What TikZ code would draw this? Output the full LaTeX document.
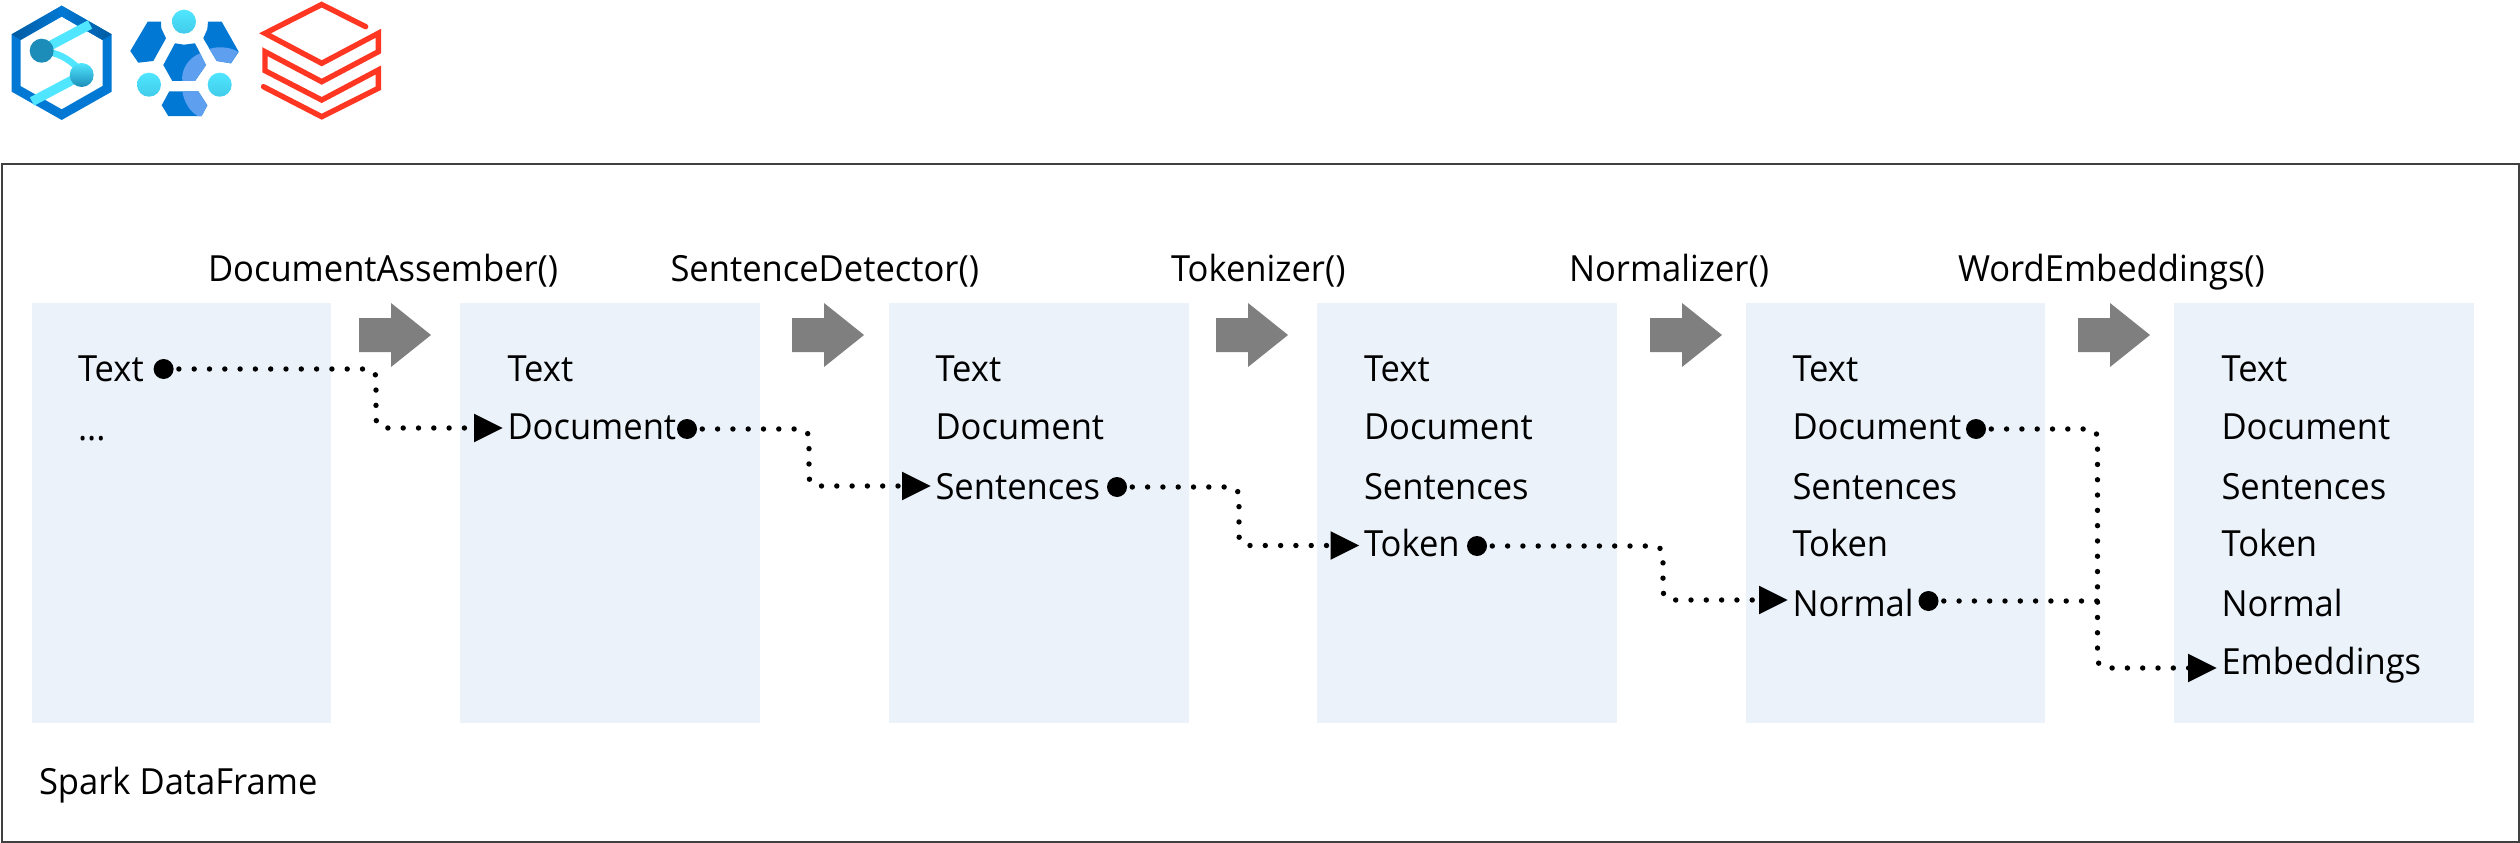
\documentclass[tikz,border=0pt]{standalone}
\usepackage{fontspec}
\setmainfont[FakeStretch=0.96]{Open Sans}
\usetikzlibrary{arrows.meta,calc}
\definecolor{panel}{HTML}{EBF2FA}
\definecolor{arrowgray}{HTML}{7F7F7F}
\definecolor{frameline}{HTML}{404040}
\definecolor{azblue}{HTML}{0078D4}
\definecolor{azdark}{HTML}{005BA1}
\definecolor{azcyan}{HTML}{50E6FF}
\definecolor{azteal}{HTML}{1B8DB8}
\definecolor{azlight}{HTML}{5EA0EF}
\definecolor{dbred}{HTML}{FF3621}
\tikzset{
  panelbox/.style={fill=panel,draw=none,minimum width=299.5pt,minimum height=420pt,inner sep=0pt,outer sep=0pt,anchor=north west},
  rowtext/.style={font=\fontsize{36}{36}\selectfont,anchor=west,inner sep=0pt,outer sep=0pt,text height=26pt,text depth=0pt},
  fn/.style={rowtext},
  srcdot/.style={circle,fill=black,minimum size=20pt,inner sep=0pt,outer sep=0pt},
  flow/.style={line width=5.4pt,line cap=round,dash pattern=on 0pt off 15.3pt,rounded corners=9pt},
  flowtip/.style={-{Triangle[length=29pt,width=27pt]},shorten >=4.5pt},
  stepshape/.style={fill=arrowgray,draw=none},
}
\newcommand{\blockarrow}[1]{\fill[stepshape] (#1,318) -- ++(32,0) -- ++(0,-15) -- ++(40,32) -- ++(-40,32) -- ++(0,-15) -- ++(-32,0) -- cycle;}
\begin{document}
\begin{tikzpicture}[x=1pt,y=-1pt]
\useasboundingbox (0,0) rectangle (2520,843);
\fill[white] (0,0) rectangle (2520,843);
% frame
\node[draw=frameline,line width=1.8pt,minimum width=2517pt,minimum height=677.8pt,inner sep=0pt,outer sep=0pt,anchor=north west] (frame) at (1.6,164.3) {};
% logo 1
\fill[azblue] (61.7,5.7) -- (111.7,34.3) -- (111.7,91.7) -- (61.7,120) -- (11.7,91.7) -- (11.7,34.3) -- cycle
 (61.7,16.5) -- (20.5,40) -- (20.5,86) -- (61.7,109.3) -- (102.5,86) -- (102.5,40) -- cycle;
\shade[left color=azdark,right color=azblue] (11.7,34.3) -- (61.7,5.7) -- (61.7,16.5) -- (20.5,40) -- cycle;
\shade[left color=azblue,right color=azdark] (61.7,5.7) -- (111.7,34.3) -- (102.5,40) -- (61.7,16.5) -- cycle;
\draw[azcyan,line width=9.4pt] (42,50) -- (90,24.5);
\draw[azcyan,line width=9.4pt] (82,75) -- (32,101.5);
\draw[azcyan,line width=6.5pt] (48,52) .. controls (62,54) and (72,62) .. (80,70);
\fill[azteal] (41.7,50.7) circle (12);
\shade[top color=azcyan,bottom color=azteal] (81.7,75) circle (12);
% logo 2
\fill[azblue] (147.7,21.7) -- (161,21.7) -- (161.3,28.3) -- (166,38.3) -- (153.3,61) -- (138.3,62.7) -- (130.3,51) -- cycle;
\fill[azblue] (208,21.7) -- (221.7,21.7) -- (238.7,51.7) -- (231,63.3) -- (216.7,61) -- (203.3,38.3) -- (207.3,29.3) -- cycle;
\fill[azblue] (175,43.3) -- (184,44.7) -- (195,43.3) -- (206,65) -- (195,81) -- (172.3,81) -- (163.3,65) -- cycle;
\fill[azblue] (169.3,91.3) -- (198.3,91.3) -- (207.3,105.3) -- (201.7,116) -- (168.3,116) -- (161.7,105.3) -- cycle;
\fill[azlight] (209.3,49) .. controls (218,46) and (230,47) .. (238,51.7) -- (231,63.3) -- (216.7,61) -- cycle;
\fill[azlight] (200,53.3) -- (206,65) -- (195,81) -- (182.3,81) .. controls (181,70) and (188,58) .. (200,53.3) -- cycle;
\fill[azlight] (182.3,91.3) -- (198.3,91.3) -- (207.3,105.3) -- (201.7,116) -- (198,116) .. controls (190,112) and (184,102) .. (182.3,91.3) -- cycle;
\shade[top color=azcyan,bottom color=azcyan!70!azteal] (184,21.7) circle (12);
\shade[top color=azcyan,bottom color=azcyan!70!azteal] (149,84.7) circle (12);
\shade[top color=azcyan,bottom color=azcyan!70!azteal] (219.7,84.7) circle (12);
% logo 3
\draw[dbred,line width=5.4pt,line cap=round,line join=miter] (365.7,26.7) -- (321.7,4.5) -- (265,33.3) -- (321.7,63.3) -- (378.3,33.3) -- (378.3,51.7) -- (321.7,81.7) -- (265,51.7) -- (265,70.7) -- (321.7,100) -- (378.3,70) -- (378.3,88.3) -- (321.7,116.7) -- (263.5,86.7);
% panels
\foreach \n/\x in {1/31.6,2/460.3,3/889,4/1317,5/1745.5,6/2174.2}
  \node[panelbox] (p\n) at (\x,303) {};
% block arrows
\blockarrow{359}\blockarrow{792}\blockarrow{1216}\blockarrow{1650}\blockarrow{2078}
% function labels
\node[fn] (f1) at (208,268) {DocumentAssember()};
\node[fn] (f2) at (670.5,268) {SentenceDetector()};
\node[fn] (f3) at (1171,268) {Tokenizer()};
\node[fn] (f4) at (1569,268) {Normalizer()};
\node[fn] (f5) at (1958,268) {WordEmbeddings()};
\node[fn] (sdf) at (39,781) {Spark DataFrame};
% column texts
\node[rowtext] (a1) at (78,368.5) {Text};
\node[rowtext] (a2) at (78,427) {...};
\foreach \c/\x in {b/507.5,c/935.5,d/1364,e/1792.5,g/2221.5}{
  \node[rowtext] (\c1) at (\x,368.5) {Text};
  \node[rowtext] (\c2) at (\x,426.5) {Document};
}
\node[rowtext] (c3) at (935.5,486.5) {Sentences};
\node[rowtext] (d3) at (1364,486.5) {Sentences};
\node[rowtext] (e3) at (1792.5,486.5) {Sentences};
\node[rowtext] (g3) at (2221.5,486.5) {Sentences};
\node[rowtext] (d4) at (1364,543.5) {Token};
\node[rowtext] (e4) at (1792.5,543.5) {Token};
\node[rowtext] (g4) at (2221.5,543.5) {Token};
\node[rowtext] (e5) at (1792.5,603) {Normal};
\node[rowtext] (g5) at (2221.5,603) {Normal};
\node[rowtext] (g6) at (2221.5,661.5) {Embeddings};
% source dots
\node[srcdot] (s1) at (163.6,369) {};
\node[srcdot] (s2) at (687,429) {};
\node[srcdot] (s3) at (1117,487) {};
\node[srcdot] (s4) at (1477,546) {};
\node[srcdot] (s5) at (1976,429) {};
\node[srcdot] (s6) at (1928.5,601) {};
% junction columns and arrow targets
\coordinate (v1) at (376,0);
\coordinate (v2) at (809,0);
\coordinate (v3) at (1239,0);
\coordinate (v4) at (1663,0);
\coordinate (v5) at (2097.5,0);
\coordinate (t1) at ($(b2.west)+(0,1.5)$);
\coordinate (t2) at ($(c3.west)+(0,-0.5)$);
\coordinate (t3) at ($(d4.west)+(0,2)$);
\coordinate (t4) at ($(e5.west)+(0,-3)$);
\coordinate (t5) at ($(g6.west)+(0,6.5)$);
% connectors
\draw[flow,flowtip] (s1.center) -- (s1 -| v1) -- (v1 |- t1) -- (t1);
\draw[flow,flowtip] (s2.center) -- (s2 -| v2) -- (v2 |- t2) -- (t2);
\draw[flow,flowtip] (s3.center) -- (s3 -| v3) -- (v3 |- t3) -- (t3);
\draw[flow,flowtip] (s4.center) -- (s4 -| v4) -- (v4 |- t4) -- (t4);
\draw[flow,flowtip] (s5.center) -- (s5 -| v5) -- (v5 |- t5) -- (t5);
\draw[flow] (s6.center) -- (s6 -| v5);
\end{tikzpicture}
\end{document}
